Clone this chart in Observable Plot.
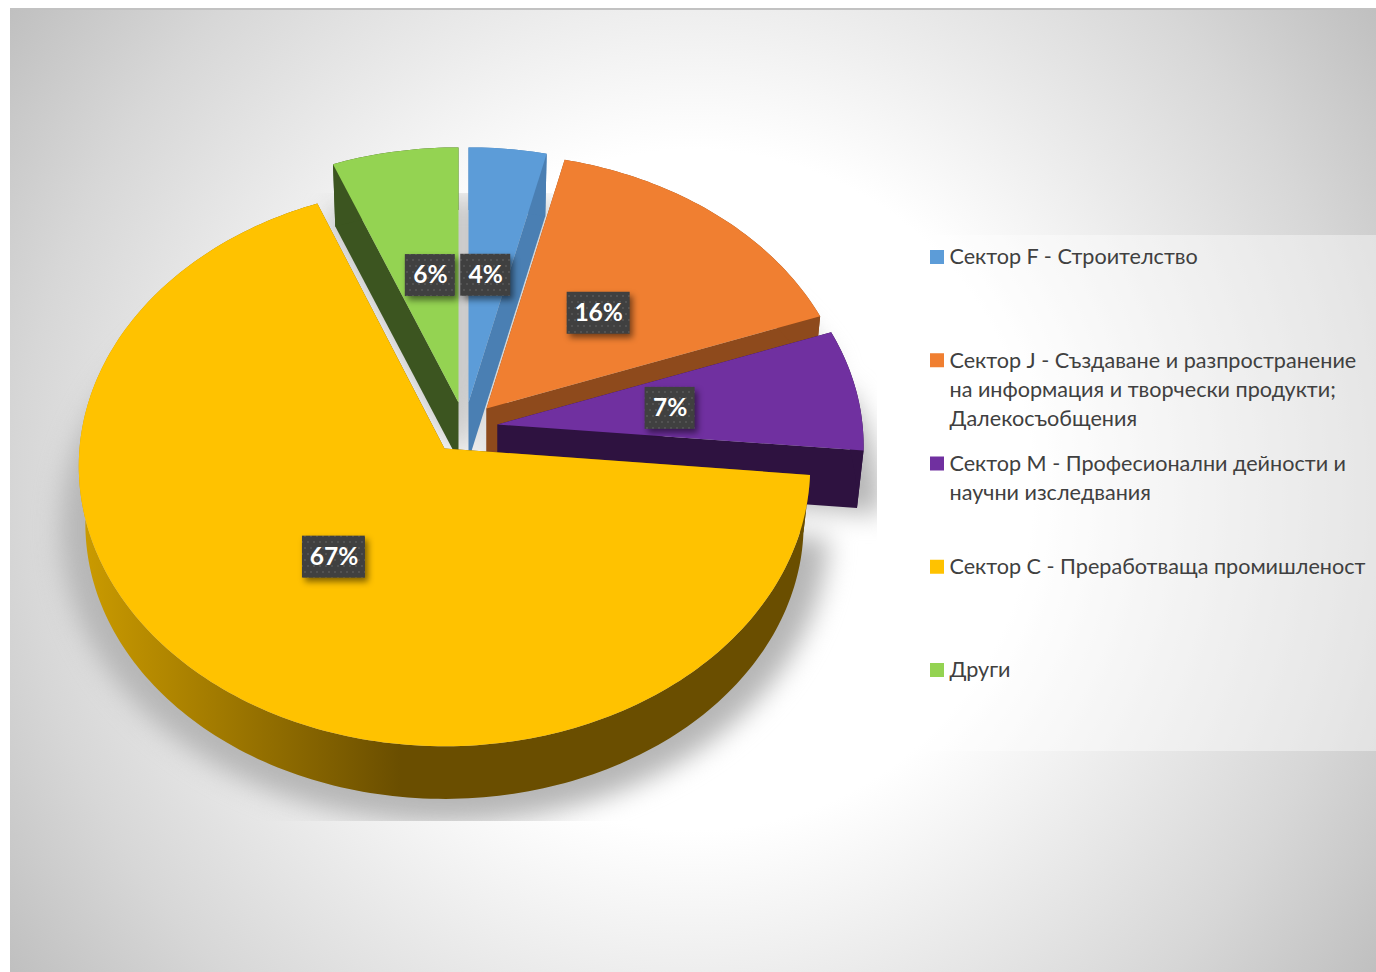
<!DOCTYPE html>
<html>
<head>
<meta charset="utf-8">
<script src="https://cdn.jsdelivr.net/npm/d3@7"></script>
<script src="https://cdn.jsdelivr.net/npm/@observablehq/plot@0.6"></script>
<style>html,body{margin:0;padding:0;background:#fff}svg{display:block}</style>
</head>
<body>
<div id="chart"></div>
<script>
// data
const sectors = [
  "Сектор F - Строителство",
  "Сектор J - Създаване и разпространение\nна информация и творчески продукти;\nДалекосъобщения",
  "Сектор M - Професионални дейности и\nнаучни изследвания",
  "Сектор C - Преработваща промишленост",
  "Други"
];
const shares = [3.7, 15.7, 7.1, 67.49, 6.01];
const percentLabels = ["4%", "16%", "7%", "67%", "6%"];

// styles
const topColors = ["#5c9cd8", "#f07f31", "#7030a0", "#ffc200", "#94d352"];
const sideColors = ["#4a7fb3", "#8e4a1c", "#2e1240", "url(#yellowSide)", "#3c5520"];
const drawOrder = [4, 0, 1, 2, 3];

// layout of the exploded 3-D pie
const apexX = [468, 486, 497, 444, 458];
const apexY = [402, 408, 424, 448, 402];
const radiusX = 365, depth = 58, floorScale = 0.982;
const radiusY = [275, 275, 275, 279, 275];
const tilt = [0.078, 0.078, 0.078, 0.063, 0.078];
const labelNudgeX = [-2, 0, -3, 2.5, 3];
const labelNudgeY = [-3, 0, 1, -6.5, -4];

const cumulative = d3.cumsum(shares);
const total = d3.sum(shares);
const startAngle = i => (i ? cumulative[i - 1] : 0) / total * 2 * Math.PI;
const endAngle = i => cumulative[i] / total * 2 * Math.PI;

function project(i, angle, radius = 1, drop = 0) {
  const w = 1 + tilt[i] * Math.cos(angle);
  return {
    x: apexX[i] + radius * radiusX * Math.sin(angle) / w,
    y: apexY[i] + drop - radius * radiusY[i] * Math.cos(angle) / w
  };
}
function rim(i, radius = 1, drop = 0) {
  const a0 = startAngle(i), a1 = endAngle(i), n = Math.ceil((a1 - a0) / 0.02);
  return d3.range(n + 1).map(k => project(i, a0 + (a1 - a0) * k / n, radius, drop));
}
const apexPoint = (i, drop = 0) => ({x: apexX[i], y: apexY[i] + drop});
const wedge = (i, radius = 1, drop = 0) => [apexPoint(i, drop), ...rim(i, radius, drop)];

const poly = (points, fill, extra = {}) =>
  Plot.line(points, {x: "x", y: "y", fill, stroke: "none", ...extra});

const frameRect = [{x1: 10, x2: 1376, y1: 9, y2: 972}];
const topEdge = [{x1: 10, x2: 1376, y1: 8, y2: 10}];
const legendRect = [{x1: 917, x2: 1376, y1: 235, y2: 751}];
const shadowCover = [
  {x1: 10, x2: 1376, y1: 9, y2: 193},
  {x1: 10, x2: 1376, y1: 821, y2: 972},
  {x1: 877, x2: 1376, y1: 193, y2: 821}
];

const bgDefs = () => {
  const defs = d3.create("svg:defs");
  const r = defs.append("radialGradient").attr("id", "bg")
    .attr("gradientUnits", "userSpaceOnUse").attr("cx", 693).attr("cy", 490).attr("r", 840);
  [[0, "#ffffff"], [0.405, "#ffffff"], [0.6, "#ebebeb"], [0.8, "#d7d7d7"], [1, "#bfbfbf"]].forEach(([o, c]) =>
    r.append("stop").attr("offset", o).attr("stop-color", c));
  const l = defs.append("linearGradient").attr("id", "yellowSide")
    .attr("gradientUnits", "userSpaceOnUse").attr("x1", 77).attr("x2", 400).attr("y1", 0).attr("y2", 0);
  [[0, "#cc9c00"], [1, "#6a4e00"]].forEach(([o, c]) =>
    l.append("stop").attr("offset", o).attr("stop-color", c));
  const p = defs.append("pattern").attr("id", "dots")
    .attr("patternUnits", "userSpaceOnUse").attr("width", 12).attr("height", 12);
  p.append("rect").attr("width", 12).attr("height", 12).attr("fill", "#404040");
  [[1, 1], [7, 1], [4, 7], [10, 7]].forEach(([x, y]) =>
    p.append("rect").attr("x", x).attr("y", y).attr("width", 2).attr("height", 2).attr("fill", "#525252"));
  return defs.node();
};

// shadow silhouette
const shadowPts = drawOrder.flatMap(i => wedge(i, 1.05, 62).map(p => ({...p, z: i})));

const marks = [
  bgDefs,
  Plot.rect(frameRect, {x1: "x1", x2: "x2", y1: "y1", y2: "y2", fill: "url(#bg)"}),
  Plot.line(shadowPts, {x: "x", y: "y", z: "z", fill: "#b6b6b6", stroke: "none", imageFilter: "blur(13px)"}),
  Plot.rect(shadowCover, {x1: "x1", x2: "x2", y1: "y1", y2: "y2", fill: "url(#bg)"}),
  Plot.rect(topEdge, {x1: "x1", x2: "x2", y1: "y1", y2: "y2", fill: "#c2c2c2"}),
  Plot.rect(legendRect, {x1: "x1", x2: "x2", y1: "y1", y2: "y2", fill: "#fff", fillOpacity: 0.4})
];

for (const i of drawOrder) {
  const side = sideColors[i];
  const a = [startAngle(i), endAngle(i)];
  a.forEach(angle => marks.push(poly([
    apexPoint(i), project(i, angle), project(i, angle, floorScale, depth), apexPoint(i, depth)
  ], side)));
  marks.push(poly([...rim(i), ...rim(i, floorScale, depth).reverse()], side));
  marks.push(poly(wedge(i), topColors[i]));
}

// percentage labels
const labelData = percentLabels.map((text, i) => {
  const mid = (startAngle(i) + endAngle(i)) / 2;
  const c = project(i, mid, 0.49);
  return {text, cx: c.x + labelNudgeX[i], cy: c.y + labelNudgeY[i], w: text.length > 2 ? 63 : 50};
});
marks.push(
  Plot.rect(labelData, {
    x1: d => d.cx - d.w / 2 + 3, x2: d => d.cx + d.w / 2 + 3,
    y1: d => d.cy - 21 + 4, y2: d => d.cy + 21 + 4,
    fill: "#000", fillOpacity: 0.5, imageFilter: "blur(3px)"
  }),
  Plot.rect(labelData, {
    x1: d => d.cx - d.w / 2, x2: d => d.cx + d.w / 2,
    y1: d => d.cy - 21, y2: d => d.cy + 21,
    fill: "url(#dots)"
  }),
  Plot.text(labelData, {
    x: "cx", y: "cy", text: "text", fill: "#fff", fontSize: 24.5, fontWeight: 700,
    fontFamily: "Lato", textAnchor: "middle", lineAnchor: "middle"
  })
);

// legend
const legendRows = sectors.map((label, i) => ({label, i, y: 257 + 103.25 * i}));
marks.push(
  Plot.rect(legendRows, {
    x1: () => 930, x2: () => 944, y1: d => d.y - 7, y2: d => d.y + 7,
    fill: d => topColors[d.i]
  }),
  Plot.text(legendRows.flatMap(r => r.label.split("\n").map((t, k) => ({t, y: r.y + 29 * k}))), {
    x: () => 949, y: "y", text: "t", textAnchor: "start", lineAnchor: "middle",
    fill: "#404040", fontSize: 21.6, fontFamily: "Lato"
  })
);

document.getElementById("chart").append(Plot.plot({
  width: 1376, height: 972,
  marginTop: 0, marginRight: 0, marginBottom: 0, marginLeft: 0,
  x: {domain: [0, 1376], range: [0, 1376], axis: null},
  y: {domain: [0, 972], range: [0, 972], axis: null},
  style: {background: "#fff"},
  marks
}));
</script>
</body>
</html>
